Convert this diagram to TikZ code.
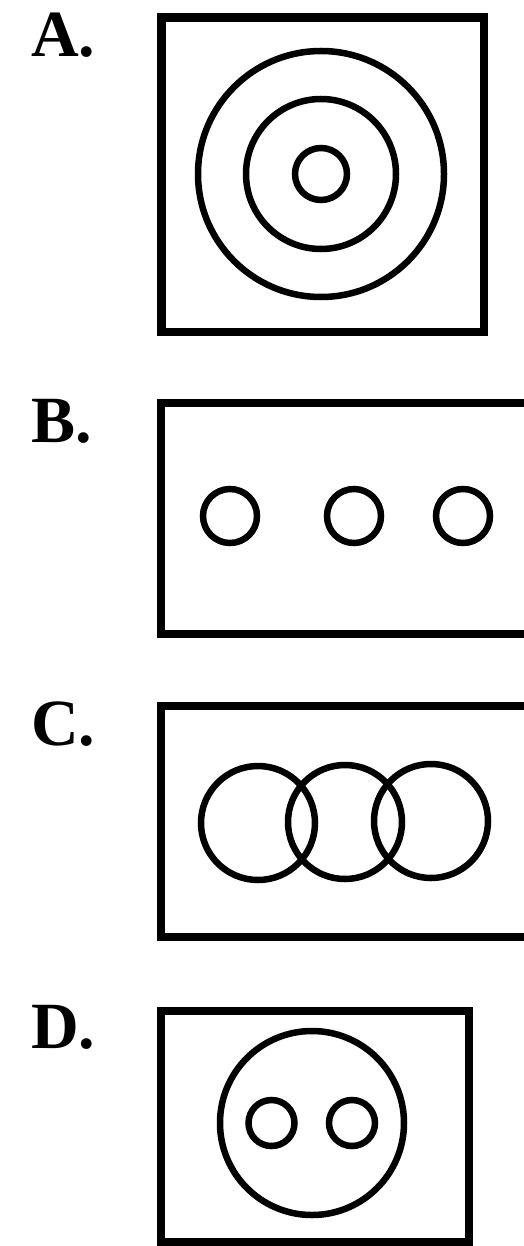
\documentclass[tikz,border=0pt]{standalone}
\usepackage{fontspec}
\setmainfont{Liberation Serif}
\begin{document}
\begin{tikzpicture}[x=1pt, y=-1pt,
  frame/.style={line width=8.5pt},
  ring/.style={line width=6.5pt},
  tag/.style={anchor=base west, inner sep=0pt, font=\fontsize{66}{66}\selectfont\bfseries}]
  \clip (0,0) rectangle (524,1246);
  % panel letters
  \foreach \t/\yb in {A/57, B/442, C/745, D/1048}{
    \node[tag] (lab\t) at (31,\yb) {\t.};
  }
  % A: concentric rings
  \draw[frame] (161.5,17.5) rectangle (484,332);
  \foreach \r in {123,75,26}
    \draw[ring] (321,174) circle (\r pt);
  % B: three separate circles
  \draw[frame] (161,403) rectangle (560,634);
  \foreach \xc in {230,354,463}
    \draw[ring] (\xc,516) circle (27pt);
  % C: three overlapping circles
  \draw[frame] (161,706) rectangle (560,937);
  \foreach \xc/\yc in {258/823, 345/822, 431/821}
    \draw[ring] (\xc,\yc) circle (57pt);
  % D: two circles inside a big one
  \draw[frame] (161,1011) rectangle (469,1242);
  \draw[ring] (312,1123) circle (92pt);
  \foreach \xc in {271.5,352}
    \draw[ring] (\xc,1123) circle (23pt);
\end{tikzpicture}
\end{document}
